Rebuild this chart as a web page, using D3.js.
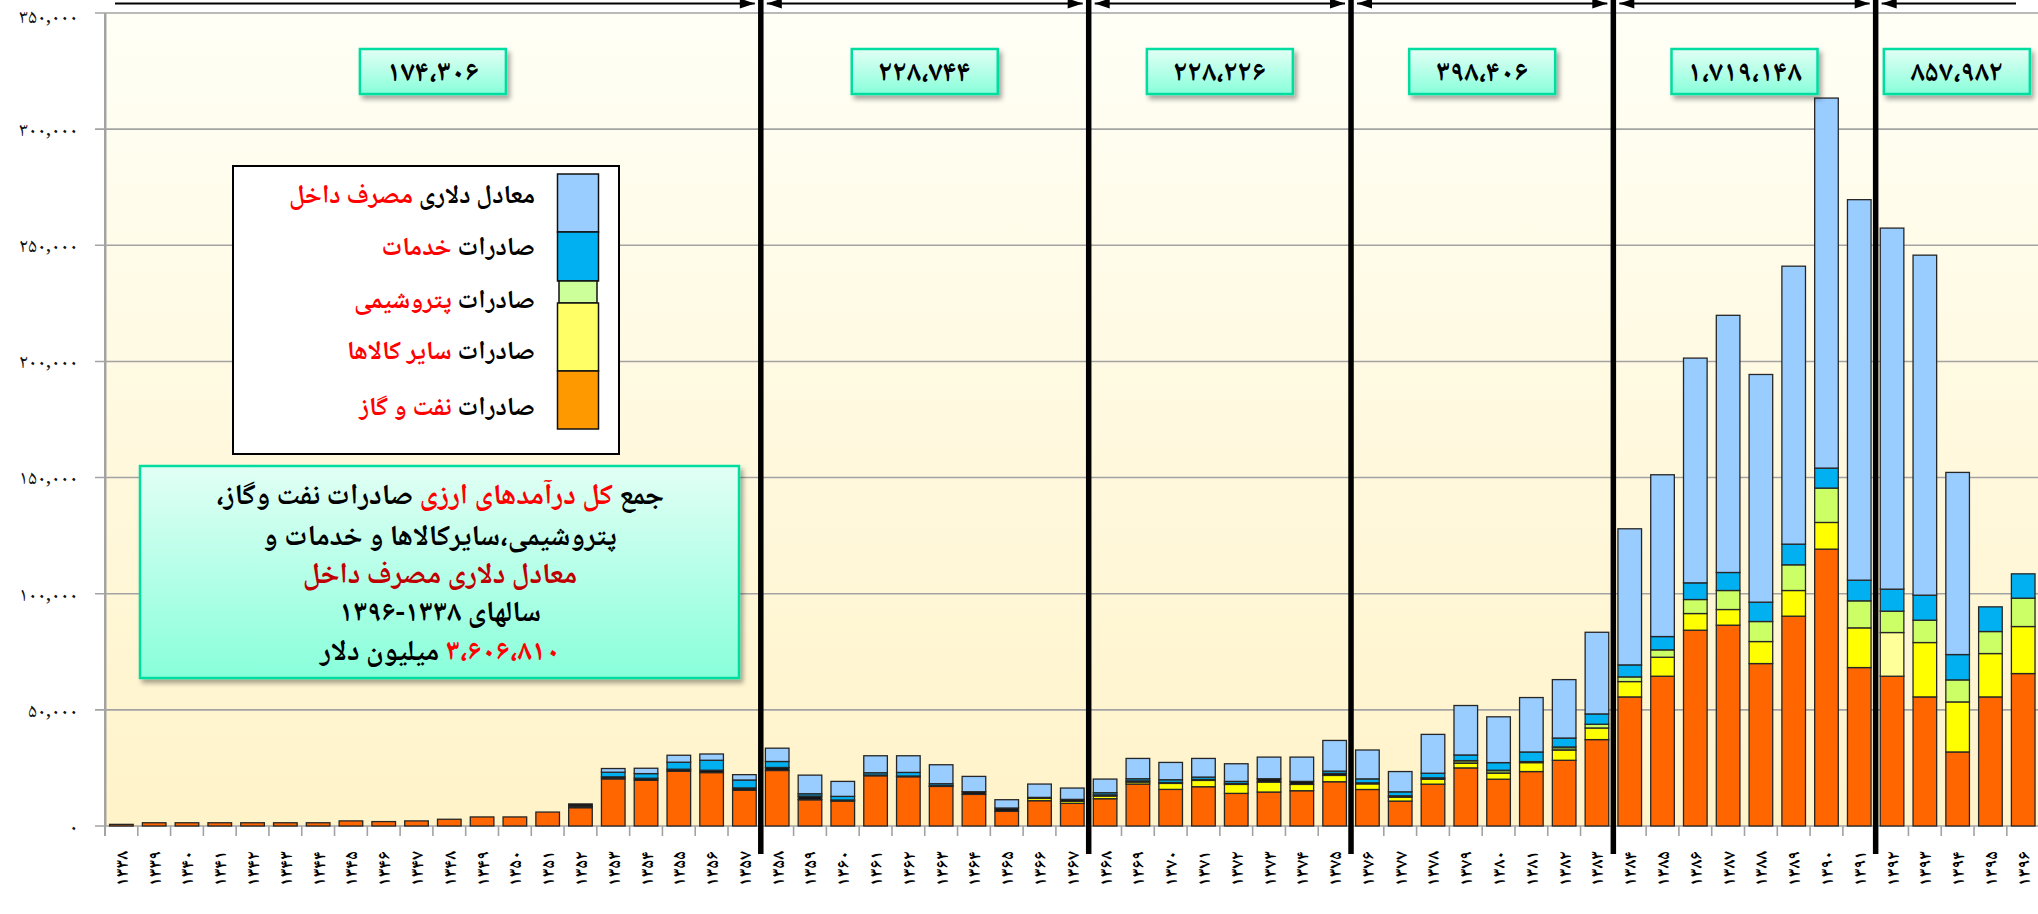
<!DOCTYPE html>
<html><head><meta charset="utf-8">
<script src="https://cdn.jsdelivr.net/npm/d3@7/dist/d3.min.js"></script>
<style>
html,body{margin:0;padding:0;background:#fff;}
svg{display:block;}
.fa{font-family:"Noto Naskh Arabic","Noto Sans Arabic","DejaVu Sans",sans-serif;}
</style></head>
<body>
<svg id="chart" width="2038" height="914"></svg>
<script>
const years = [1338,1339,1340,1341,1342,1343,1344,1345,1346,1347,1348,1349,1350,1351,1352,1353,1354,1355,1356,1357,
  1358,1359,1360,1361,1362,1363,1364,1365,1366,1367,1368,1369,1370,1371,1372,1373,1374,1375,1376,1377,
  1378,1379,1380,1381,1382,1383,1384,1385,1386,1387,1388,1389,1390,1391,1392,1393,1394,1395,1396];

const oilGas = [700,1400,1400,1400,1400,1400,1400,2200,1900,2200,2900,3900,3900,6000,7900,20300,19700,23600,23000,15400,
  23900,11300,10750,21640,21210,17050,13610,6300,10890,9740,11750,18060,15760,16910,14040,14620,15190,19060,15720,10720,
  18010,25010,20150,23440,28290,37200,55570,64480,84290,86450,69930,90330,119190,68210,64480,55570,31880,55570,65630];
const otherGoods = [0,0,0,0,0,0,0,0,0,0,0,0,0,0,600,0,0,0,0,0,
  0,0,0,0,0,0,0,0,1000,860,1150,860,2580,2720,3870,4300,2720,2720,2430,1710,
  2140,2000,2570,3850,4430,5000,6610,8180,7180,6750,9480,11050,11490,17090,18810,23410,21540,18670,20240];
const petrochem = [0,0,0,0,0,0,0,0,0,0,0,0,0,0,1000,860,860,860,1000,1000,
  1290,1580,450,300,300,300,1150,1440,430,860,500,500,400,400,400,1430,1290,860,430,570,
  570,1140,1290,430,1290,1600,2010,3160,6030,8180,8620,11060,14790,11630,9190,9620,9480,9480,12210];
const services = [0,0,0,0,0,0,0,0,0,0,0,0,0,0,0,2000,2000,3000,4300,3400,
  2580,1000,1550,990,1560,850,0,0,0,0,930,930,1180,1030,890,0,0,1000,1710,1720,
  2000,2430,3280,4150,3860,4450,5170,5740,7180,7760,8330,8900,8610,8900,9480,10770,10910,10630,10480];
const domestic = [0,0,0,0,0,0,0,0,0,0,0,0,0,0,0,1580,2300,3000,2700,2300,
  5730,8020,6450,7310,7170,8170,6590,3580,5740,4880,5870,8740,7450,8030,7600,9310,10460,13190,12430,8720,
  16720,21290,19720,23430,25150,35150,58590,69650,96750,110710,98020,119660,159300,163810,155440,146380,78410,0,0];

const yTicks = [0,50000,100000,150000,200000,250000,300000,350000];
const periodStarts = [1338,1358,1368,1376,1384,1392];
const periodTotals = ["۱۷۴،۳۰۶","۲۲۸،۷۴۴","۲۲۸،۲۲۶","۳۹۸،۴۰۶","۱،۷۱۹،۱۴۸","۸۵۷،۹۸۲"];

const seriesKeys = ["oil","other","petro","services","domestic"];
const legendItems = [
  {key:"domestic", black:"معادل دلاری ", red:"مصرف داخل"},
  {key:"services", black:"صادرات ", red:"خدمات"},
  {key:"petro", black:"صادرات ", red:"پتروشیمی"},
  {key:"other", black:"صادرات ", red:"سایر کالاها"},
  {key:"oil", black:"صادرات ", red:"نفت و گاز"}
];

// ---------- styles ----------
const baseColor = {oil:"#FF6600", other:"#FFFF00", petro:"#CCFF66", services:"#00B0F0", domestic:"#99CCFF"};
const legendColor = {oil:"#FF9900", other:"#FFFF66", petro:"#CCFF99", services:"#00B0F0", domestic:"#99CCFF"};
function segColor(key, year){
  if (key === "petro") return year < 1379 ? "#141414" : (year < 1383 ? "#76923C" : baseColor.petro);
  if (key === "other" && year === 1392) return "#FFFF99";
  return baseColor[key];
}
const faDigits = "۰۱۲۳۴۵۶۷۸۹";
const toFa = s => String(s).replace(/[0-9]/g, d => faDigits[+d]);

const W = 2038, H = 914;
const L = 105, T = 13, B = 826;
const svg = d3.select("#chart");
const defs = svg.append("defs");

const bg = defs.append("linearGradient").attr("id","bgGrad").attr("x1",0).attr("y1",0).attr("x2",0).attr("y2",1);
bg.append("stop").attr("offset","0%").attr("stop-color","#FFFFF6");
bg.append("stop").attr("offset","100%").attr("stop-color","#FFF3C9");
const tg = defs.append("linearGradient").attr("id","teal").attr("x1",0).attr("y1",0).attr("x2",0).attr("y2",1);
tg.append("stop").attr("offset","0%").attr("stop-color","#E2FFF5");
tg.append("stop").attr("offset","100%").attr("stop-color","#88FFDA");
const sh = defs.append("filter").attr("id","shadow").attr("x","-10%").attr("y","-10%").attr("width","130%").attr("height","140%");
sh.append("feDropShadow").attr("dx",3).attr("dy",4).attr("stdDeviation",2.5).attr("flood-color","#000").attr("flood-opacity",0.35);

const x = d3.scaleBand().domain(years).range([L, L + 59*32.79]).paddingInner(0.28).paddingOuter(0.14);
const y = d3.scaleLinear().domain([0,350000]).range([B, T]);
const step = x.step();

// background
svg.append("rect").attr("x",L).attr("y",T).attr("width",W-L).attr("height",B-T).attr("fill","url(#bgGrad)");

// grid
svg.append("g").selectAll("line").data(yTicks).join("line")
  .attr("x1",L-10).attr("x2",W).attr("y1",d=>y(d)).attr("y2",d=>y(d))
  .attr("stroke","#A3A3A3").attr("stroke-width",1.6);

// y axis
const yAxis = d3.axisLeft(y).tickValues(yTicks).tickSize(0).tickPadding(27)
  .tickFormat(d => toFa(d3.format(",")(d)));
const gy = svg.append("g").attr("transform",`translate(${L},0)`).call(yAxis);
gy.select(".domain").attr("stroke","#A3A3A3").attr("stroke-width",2);
gy.selectAll("text").attr("class","fa").attr("font-size",20).attr("fill","#111");
gy.selectAll(".tick").filter(d=>d===350000).select("text").attr("dy","0.45em");
svg.append("line").attr("x1",L).attr("x2",L).attr("y1",T).attr("y2",B+10).attr("stroke","#A3A3A3").attr("stroke-width",2);

// x axis ticks at category boundaries
const bounds = years.map(yr => x(yr) - step*0.14).concat([x(years[years.length-1]) - step*0.14 + step]);
svg.append("g").selectAll("line").data(bounds).join("line")
  .attr("x1",d=>d).attr("x2",d=>d).attr("y1",B).attr("y2",B+10)
  .attr("stroke","#A3A3A3").attr("stroke-width",1.6);
svg.append("g").selectAll("text").data(years).join("text")
  .attr("class","fa")
  .attr("transform",d=>`translate(${x(d)+x.bandwidth()/2},851) rotate(-90)`)
  .attr("text-anchor","end").attr("dy","0.36em")
  .attr("font-size",18).attr("font-weight","bold").attr("fill","#000")
  .text(d=>toFa(d));

// stacked bars
const table = years.map((yr,i)=>({year:yr, oil:oilGas[i], other:otherGoods[i], petro:petrochem[i], services:services[i], domestic:domestic[i]}));
const stacked = d3.stack().keys(seriesKeys)(table);
const gb = svg.append("g");
stacked.forEach(s=>{
  gb.append("g").selectAll("rect").data(s.filter(d=>d[1]-d[0]>0)).join("rect")
    .attr("x",d=>x(d.data.year)).attr("width",x.bandwidth())
    .attr("y",d=>y(d[1])).attr("height",d=>y(d[0])-y(d[1]))
    .attr("fill",d=>segColor(s.key,d.data.year))
    .attr("stroke","#262626").attr("stroke-width",1.3);
});

// legend
const lg = svg.append("g");
lg.append("rect").attr("x",233).attr("y",166).attr("width",386).attr("height",288).attr("fill","#fff").attr("stroke","#000").attr("stroke-width",2);
const sw = [{key:"domestic",y0:174,y1:232,w:41},{key:"services",y0:232,y1:281,w:41},{key:"petro",y0:281,y1:303,w:38},{key:"other",y0:303,y1:371,w:41},{key:"oil",y0:371,y1:429,w:41}];
lg.selectAll("rect.sw").data(sw).join("rect").attr("class","sw")
  .attr("x",d=>578-d.w/2).attr("width",d=>d.w).attr("y",d=>d.y0).attr("height",d=>d.y1-d.y0)
  .attr("fill",d=>legendColor[d.key]).attr("stroke","#111").attr("stroke-width",1.5);
const lys = [194,246,299,350,406];
legendItems.forEach((it,i)=>{
  const t = lg.append("text").attr("class","fa").attr("x",535).attr("y",lys[i]).attr("dy","0.35em")
    .attr("direction","rtl").attr("text-anchor","start").attr("font-size",26).attr("font-weight","bold");
  t.append("tspan").attr("fill","#000").text(it.black);
  t.append("tspan").attr("fill","#FF0000").text(it.red);
});

// info box
const ib = svg.append("g");
ib.append("rect").attr("x",140).attr("y",466).attr("width",599).attr("height",212)
  .attr("fill","url(#teal)").attr("stroke","#00DDA0").attr("stroke-width",2.5).attr("filter","url(#shadow)");
const infoLines = [
  [["جمع ","#000"],["کل درآمدهای ارزی","#FF0000"],[" صادرات نفت وگاز،","#000"]],
  [["پتروشیمی،سایرکالاها و خدمات و","#000"]],
  [["معادل دلاری مصرف داخل","#C00000"]],
  [["سالهای ","#000"],["۱۳۳۸-۱۳۹۶","#000"]],
  [["۳،۶۰۶،۸۱۰","#FF0000"],[" میلیون دلار","#000"]]
];
const iys = [494,535,573,611,650];
infoLines.forEach((ln,i)=>{
  const t = ib.append("text").attr("class","fa").attr("x",440).attr("y",iys[i]).attr("dy","0.35em")
    .attr("direction","rtl").attr("text-anchor","middle").attr("font-size",29).attr("font-weight","bold");
  ln.forEach(p=>t.append("tspan").attr("fill",p[1]).text(p[0]));
});

// period separators, arrows and totals
const sepX = periodStarts.slice(1).map(yr => x(yr) - step*0.14);
const edges = [L+10].concat(sepX).concat([2016]);
const pb = svg.append("g");
periodTotals.forEach((lab,i)=>{
  const a = i===0 ? L : sepX[i-1], b = i===periodTotals.length-1 ? W : sepX[i];
  const cx = (a+b)/2;
  pb.append("rect").attr("x",cx-73).attr("y",49).attr("width",146).attr("height",45)
    .attr("fill","url(#teal)").attr("stroke","#00DDA0").attr("stroke-width",2.5).attr("filter","url(#shadow)");
  pb.append("text").attr("class","fa").attr("x",cx).attr("y",71).attr("dy","0.35em").attr("text-anchor","middle")
    .attr("font-size",29).attr("font-weight","bold").attr("fill","#000").text(lab);
});
svg.append("g").selectAll("line").data(sepX).join("line")
  .attr("x1",d=>d).attr("x2",d=>d).attr("y1",0).attr("y2",854)
  .attr("stroke","#000").attr("stroke-width",5.5);

const ag = svg.append("g");
for (let i=0;i<edges.length-1;i++){
  const a = i===0 ? edges[0] : edges[i]+6;
  const b = i===edges.length-2 ? edges[i+1] : edges[i+1]-6;
  const yy = 3.5;
  ag.append("line").attr("x1",a).attr("x2",b).attr("y1",yy).attr("y2",yy).attr("stroke","#000").attr("stroke-width",2);
  if (i>0) ag.append("path").attr("d",`M${a},${yy} L${a+15},${yy-5} L${a+15},${yy+5} Z`).attr("fill","#000");
  if (i<edges.length-2) ag.append("path").attr("d",`M${b},${yy} L${b-15},${yy-5} L${b-15},${yy+5} Z`).attr("fill","#000");
}
</script>
</body></html>
